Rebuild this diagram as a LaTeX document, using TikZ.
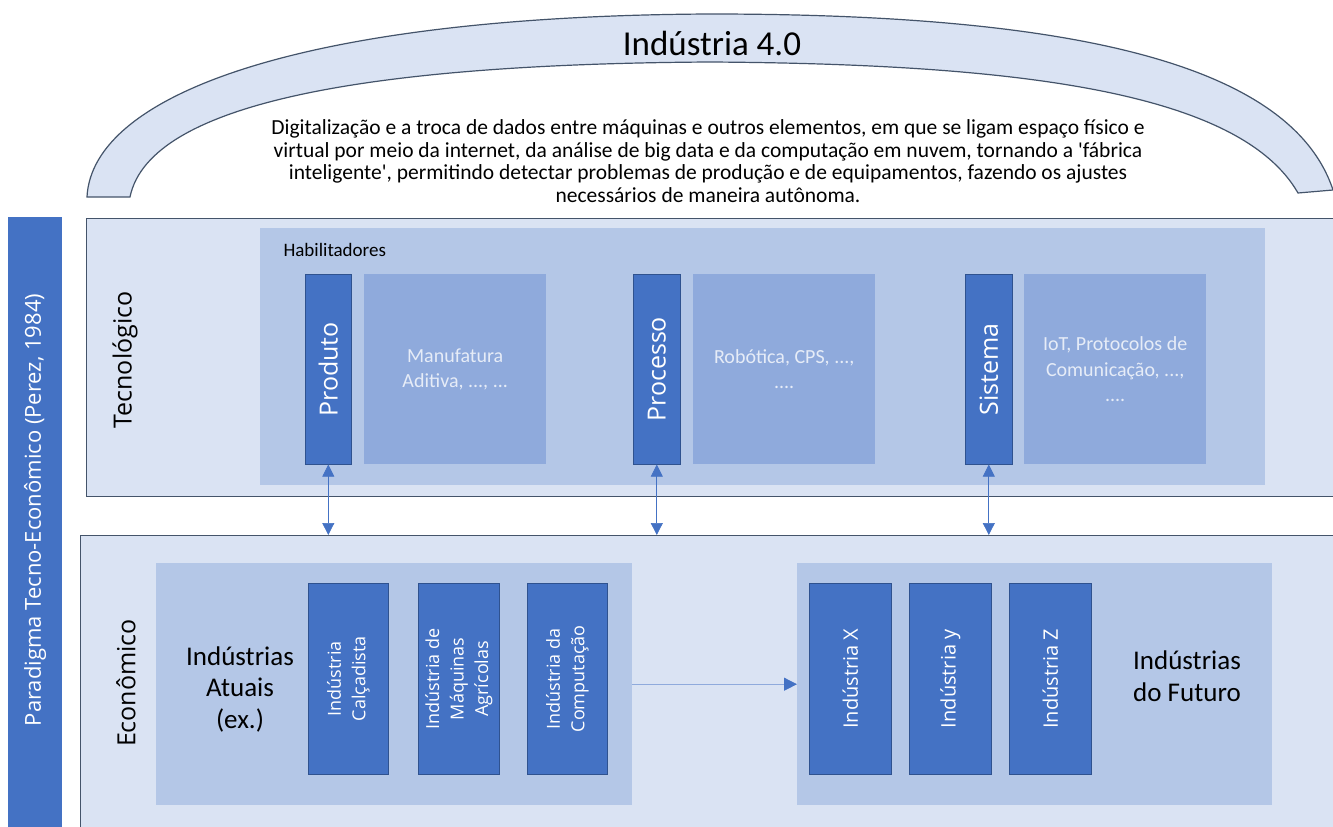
\documentclass[tikz,border=0pt]{standalone}
\usepackage{fontspec}
\setmainfont{Carlito}[Ligatures=TeXOff]
\newfontfamily\segoe{Open Sans}
\usetikzlibrary{arrows.meta}
\definecolor{dblue}{HTML}{4472C4}
\definecolor{mblue}{HTML}{B4C7E7}
\definecolor{lblue}{HTML}{DAE3F3}
\definecolor{sblue}{HTML}{8FAADC}
\definecolor{frame}{HTML}{44546A}
\definecolor{bbord}{HTML}{2F528F}
\definecolor{ltxt}{HTML}{E6ECF7}
\begin{document}
\begin{tikzpicture}[x=1pt,y=-1pt,
  panel/.style={draw=frame, line width=1.3pt, fill=lblue, rectangle, anchor=north west, inner sep=0pt},
  group/.style={fill=mblue, rectangle, anchor=north west, inner sep=0pt},
  bar/.style={fill=dblue, draw=bbord, line width=0.6pt, rectangle, anchor=north west, inner sep=0pt},
  sub/.style={fill=sblue, rectangle, anchor=north west, inner sep=0pt, text=ltxt, align=center, font=\fontsize{20}{25.5}\selectfont},
  barlabel/.style={rotate=90, text=white, align=center, font=\segoe\fontsize{18}{24.5}\selectfont},
  singlelabel/.style={rotate=90, text=white, font=\segoe\fontsize{20}{24}\selectfont},
  enablabel/.style={rotate=90, text=white, font=\segoe\fontsize{25}{29}\selectfont},
  biglabel/.style={rotate=90, font=\segoe\fontsize{25}{29}\selectfont},
  grouplabel/.style={align=center, font=\fontsize{27}{31.5}\selectfont},
  link/.style={draw=dblue, line width=0.7pt, {Triangle[length=12pt,width=12pt]}-{Triangle[length=12pt,width=12pt]}},
  flow/.style={draw=sblue, line width=0.8pt, -{Triangle[length=13pt,width=13pt,fill=dblue,color=dblue]}}
]
\useasboundingbox (0,0) rectangle (1333,827);
\fill[white] (0,0) rectangle (1333,827);

% arch
\draw[fill=lblue, draw=frame, line width=1.2pt]
  (87,197) .. controls (92,95) and (300,16) .. (710,14)
  .. controls (1060,14) and (1290,60) .. (1333,190)
  -- (1298,193)
  .. controls (1240,92) and (1020,64) .. (710,62)
  .. controls (380,64) and (150,100) .. (130,197) -- cycle;
\node[font=\fontsize{35}{40}\selectfont] (title) at (712,43) {Indústria 4.0};
\node[align=center, font=\fontsize{21.5}{22.5}\selectfont] (desc) at (708,161)
 {Digitalização e a troca de dados entre máquinas e outros elementos, em que se ligam espaço físico e\\
  virtual por meio da internet, da análise de big data e da computação em nuvem, tornando a 'fábrica\\
  inteligente', permitindo detectar problemas de produção e de equipamentos, fazendo os ajustes\\
  necessários de maneira autônoma.};

% left bar
\node[bar, draw=none, minimum width=54pt, minimum height=620pt] (paradigm) at (8,217) {};
\node[rotate=90, text=white, font=\segoe\fontsize{22}{26}\selectfont] (paradigmT) at (35,510) {Paradigma Tecno-Econômico (Perez, 1984)};

% technological panel
\node[panel, minimum width=1265pt, minimum height=278pt] (tech) at (86,218) {};
\node[biglabel] (techT) at (125,360) {Tecnológico};
\node[group, minimum width=1005pt, minimum height=257pt] (hab) at (260,228) {};
\node[anchor=west, font=\fontsize{19}{23}\selectfont] (habT) at (280,250) {Habilitadores};

\node[bar, minimum width=46pt, minimum height=190pt] (produto) at (305,274) {};
\node[enablabel] (produtoT) at (produto.center) {Produto};
\node[sub, minimum width=182pt, minimum height=190pt] (manuf) at (364,274) {Manufatura\\Aditiva, ..., ...};

\node[bar, minimum width=47pt, minimum height=190pt] (processo) at (633,274) {};
\node[enablabel] (processoT) at (processo.center) {Processo};
\node[sub, minimum width=182pt, minimum height=190pt] (robot) at (693,274) {Robótica, CPS, ...,\\....};

\node[bar, minimum width=47pt, minimum height=190pt] (sistema) at (965,274) {};
\node[enablabel] (sistemaT) at (sistema.center) {Sistema};
\node[sub, minimum width=182pt, minimum height=190pt] (iot) at (1024,274) {IoT, Protocolos de\\Comunicação, ...,\\....};

% economic panel
\node[panel, minimum width=1271pt, minimum height=310pt] (econ) at (80,535) {};
\node[biglabel] (econT) at (126,683) {Econômico};

\node[group, minimum width=476pt, minimum height=242pt] (atuais) at (156,563) {};
\node[grouplabel] (atuaisT) at (240,689) {Indústrias\\Atuais\\(ex.)};
\node[bar, minimum width=80pt, minimum height=191pt] (calc) at (308,583) {};
\node[barlabel] (calcT) at (calc.center) {Indústria\\Calçadista};
\node[bar, minimum width=81pt, minimum height=191pt] (maq) at (418,583) {};
\node[barlabel] (maqT) at (maq.center) {Indústria de\\Máquinas\\Agrícolas};
\node[bar, minimum width=80pt, minimum height=191pt] (comp) at (527,583) {};
\node[barlabel] (compT) at (comp.center) {Indústria da\\Computação};

\node[group, minimum width=475pt, minimum height=242pt] (futuro) at (797,563) {};
\node[grouplabel] (futuroT) at (1187,676) {Indústrias\\do Futuro};
\node[bar, minimum width=82pt, minimum height=191pt] (ix) at (809,583) {};
\node[singlelabel] (ixT) at (ix.center) {Indústria X};
\node[bar, minimum width=82pt, minimum height=191pt] (iy) at (909,583) {};
\node[singlelabel] (iyT) at (iy.center) {Indústria y};
\node[bar, minimum width=82pt, minimum height=191pt] (iz) at (1009,583) {};
\node[singlelabel] (izT) at (iz.center) {Indústria Z};

% connectors
\draw[link] (produto.south) -- (produto.south |- econ.north);
\draw[link] (processo.south) -- (processo.south |- econ.north);
\draw[link] (sistema.south) -- (sistema.south |- econ.north);
\draw[flow] (atuais.east) -- (futuro.west);
\end{tikzpicture}
\end{document}
